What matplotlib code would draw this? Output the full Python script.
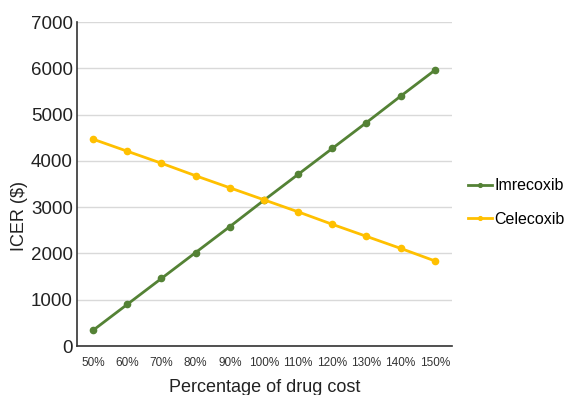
import matplotlib
matplotlib.use("Agg")
import matplotlib.pyplot as plt

categories = ["50%", "60%", "70%", "80%", "90%", "100%", "110%", "120%", "130%", "140%", "150%"]
imrecoxib = [340, 900, 1460, 2020, 2580, 3150, 3710, 4270, 4830, 5400, 5960]
celecoxib = [4470, 4210, 3950, 3680, 3420, 3160, 2900, 2630, 2370, 2110, 1840]
yticks = [0, 1000, 2000, 3000, 4000, 5000, 6000, 7000]

plt.rcParams['font.family'] = ['Liberation Sans', 'DejaVu Sans']

fig = plt.figure(figsize=(5.68, 3.95), dpi=100)
ax = fig.add_axes([0.1356, 0.124, 0.66, 0.82])

x = list(range(len(categories)))
ax.plot(x, imrecoxib, color="#548235", lw=2.0, marker="o", ms=4.5, label="Imrecoxib", zorder=3)
ax.plot(x, celecoxib, color="#FFC000", lw=2.0, marker="o", ms=4.5, label="Celecoxib", zorder=3)

ax.set_xlim(-0.47, 10.5)
ax.set_ylim(0, 7000)
ax.set_yticks(yticks)
ax.set_yticklabels([str(v) for v in yticks], fontsize=13.5, color="#222222")
ax.set_xticks(x)
ax.set_xticklabels(categories, fontsize=8.5, color="#333333")
ax.tick_params(axis="both", length=0)
ax.tick_params(axis="x", pad=8)
ax.tick_params(axis="y", pad=3)
ax.grid(axis="y", color="#d9d9d9", lw=1)
ax.set_axisbelow(True)
for s in ["top", "right"]:
    ax.spines[s].set_visible(False)
for s in ["left", "bottom"]:
    ax.spines[s].set_color("#333333")
    ax.spines[s].set_linewidth(1.2)

ax.set_ylabel("ICER ($)", fontsize=13, color="#222222")
ax.yaxis.set_label_coords(-0.13, 0.4)
ax.set_xlabel("Percentage of drug cost", fontsize=13, color="#222222", labelpad=7)

leg = fig.legend(loc="center left", bbox_to_anchor=(0.824, 0.487), frameon=False, fontsize=11.5,
                 handlelength=1.5, handletextpad=0.15, labelspacing=1.15, markerscale=0.6,
                 borderpad=0, borderaxespad=0)

fig.savefig("out.png", dpi=100)
